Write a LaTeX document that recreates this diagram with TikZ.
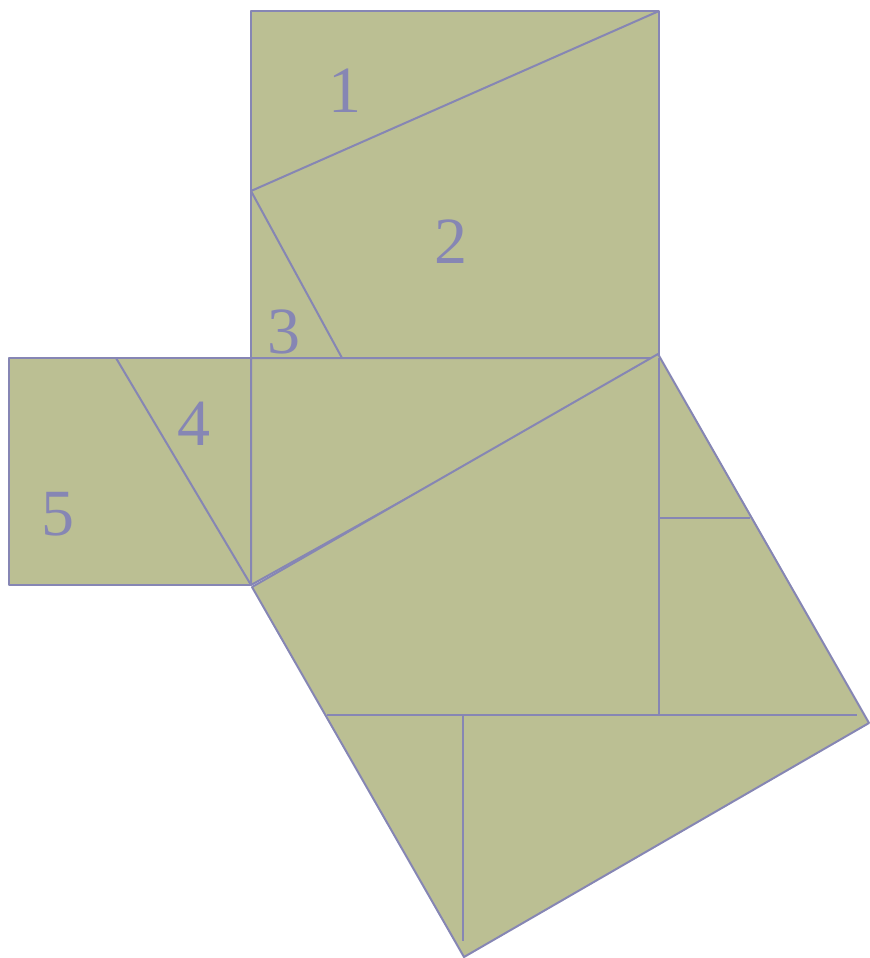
\documentclass[tikz,border=0pt]{standalone}
\usepackage{fontspec}
\setmainfont{Liberation Serif}
\definecolor{piecefill}{RGB}{187,191,147}
\definecolor{pieceline}{RGB}{134,134,180}

\begin{document}
\begin{tikzpicture}[x=0.5pt, y=-0.5pt,
    piece/.style={draw=pieceline, line width=1pt, fill=piecefill, line join=round},
    cut/.style={draw=pieceline, line width=1pt},
    num/.style={text=pieceline, inner sep=0pt, font=\fontsize{33}{36}\selectfont}]
                \useasboundingbox (0,0) rectangle (870,958);

                % Square on the long leg
                \draw[piece] (251,11) rectangle (659,358);
                \draw[cut] (251,191) -- (659,11);
                \draw[cut] (251,191) -- (342,358);

                % Square on the short leg
                \draw[piece] (9,358) rectangle (251,585);
                \draw[cut] (116,358) -- (251,585);

                % Right triangle
                \draw[piece] (251,358) -- (659,358) -- (251,585) -- cycle;

                % Square on the hypotenuse
                \draw[piece] (252,587) -- (658,354) -- (869,723) -- (464,957) -- cycle;
                \draw[cut] (659,358) -- (659,715);
                \draw[cut] (659,518) -- (750,518);
                \draw[cut] (327,715) -- (857,715);
                \draw[cut] (463,715) -- (463,941);

                % Piece numbers
                \node[num] (p1) at (345,91) {1};
                \node[num] (p2) at (451,242) {2};
                \node[num] (p3) at (284,332) {3};
                \node[num] (p4) at (194,424) {4};
                \node[num] (p5) at (58,514) {5};
\end{tikzpicture}
\end{document}
